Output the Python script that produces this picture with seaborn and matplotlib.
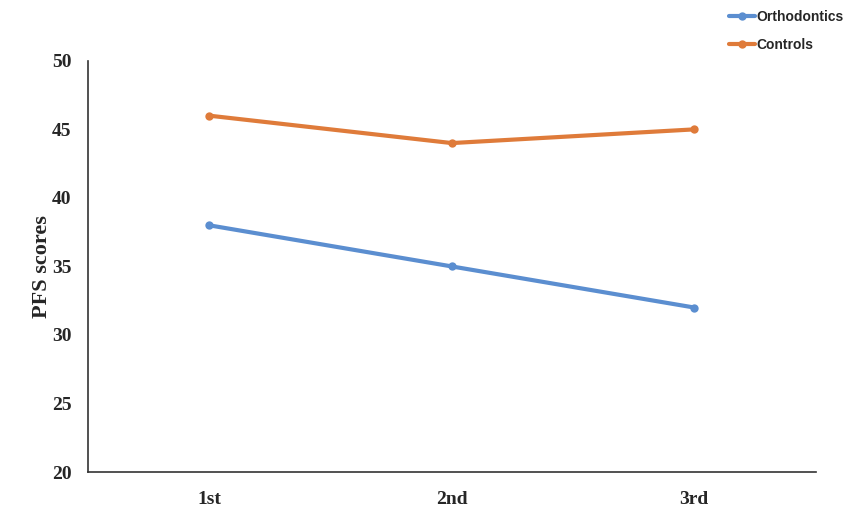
import matplotlib.pyplot as plt
import seaborn as sns
import pandas as pd

sessions = ["1st", "2nd", "3rd"]
orthodontics = [38, 35, 32]
controls = [46, 44, 45]
groups = ["Orthodontics", "Controls"]
colors = ["#5B8ED0", "#DF7B3A"]

df = pd.DataFrame({
    "session": sessions * 2,
    "score": orthodontics + controls,
    "group": [groups[0]] * 3 + [groups[1]] * 3,
})

sns.set_style("white")
fig = plt.figure(figsize=(8.5, 5.07), dpi=100)
ax = fig.add_axes([0.1035, 0.069, 0.856, 0.811])

sns.lineplot(data=df, x="session", y="score", hue="group", palette=colors,
             marker="o", markersize=6, markeredgewidth=0, linewidth=3, ax=ax)

ax.set_xlim(-0.5, 2.5)
ax.set_ylim(20, 50)
ax.set_yticks(range(20, 51, 5))
ax.set_xlabel("")
ax.set_ylabel("PFS scores", fontsize=16, fontweight="bold", family="Liberation Serif", labelpad=0)
for lbl in ax.get_xticklabels() + ax.get_yticklabels():
    lbl.set_family("Liberation Serif")
    lbl.set_fontweight("bold")
    lbl.set_fontsize(14)
ax.tick_params(axis="y", pad=12, length=0)
ax.tick_params(axis="x", pad=14, length=0)

for side in ["top", "right"]:
    ax.spines[side].set_visible(False)
for side in ["left", "bottom"]:
    ax.spines[side].set_color("#333333")
    ax.spines[side].set_linewidth(1.2)

handles, labels = ax.get_legend_handles_labels()
ax.legend_.remove()
fig.legend(handles, labels, loc="upper left", bbox_to_anchor=(0.846, 1.0), frameon=False,
           prop={"family": "Liberation Sans", "weight": "bold", "size": 10},
           handlelength=1.9, handletextpad=0.1, labelspacing=1.0, borderaxespad=0.3)

plt.savefig("out.png", dpi=100)
plt.close()
